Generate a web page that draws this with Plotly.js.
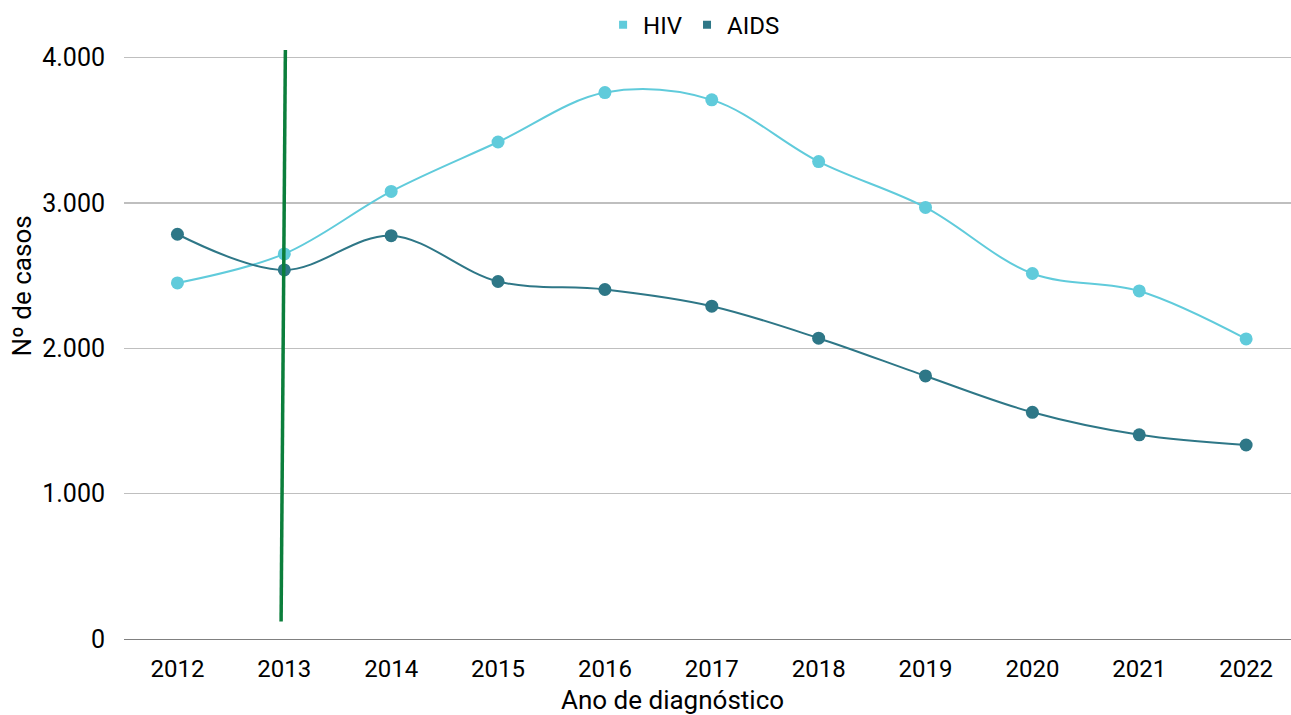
<!DOCTYPE html>
<html>
<head>
<meta charset="utf-8">
<script src="https://cdn.plot.ly/plotly-3.0.1.min.js"></script>
<style>
html,body{margin:0;padding:0;overflow:hidden;background:#fff;}
#chart{width:1291px;height:715px;}
</style>
</head>
<body>
<div id="chart"></div>
<script>
const years = ['2012','2013','2014','2015','2016','2017','2018','2019','2020','2021','2022'];
const hiv  = [2450, 2650, 3080, 3420, 3760, 3710, 3285, 2970, 2515, 2395, 2065];
const aids = [2785, 2540, 2775, 2460, 2405, 2290, 2070, 1810, 1560, 1405, 1335];
const seriesNames = ['HIV', 'AIDS'];
const colors = ['#60CBDB', '#2E7787'];
// hand-drawn marker line (category index, value)
const markerLineX = [1.01, 0.97];
const markerLineY = [4053, 120];

const font = 'Roboto, "Open Sans", sans-serif';

const traces = [
  {x: years, y: hiv, name: seriesNames[0], mode: 'lines+markers', type: 'scatter',
   line: {color: colors[0], width: 2, shape: 'spline', smoothing: 1},
   marker: {color: colors[0], size: 13}, showlegend: false, hoverinfo: 'x+y'},
  {x: years, y: aids, name: seriesNames[1], mode: 'lines+markers', type: 'scatter',
   line: {color: colors[1], width: 2, shape: 'spline', smoothing: 1},
   marker: {color: colors[1], size: 13}, showlegend: false, hoverinfo: 'x+y'},
  {x: [null], y: [null], name: seriesNames[0], mode: 'markers', type: 'scatter',
   marker: {color: colors[0], size: 8, symbol: 'square'}, showlegend: true},
  {x: [null], y: [null], name: seriesNames[1], mode: 'markers', type: 'scatter',
   marker: {color: colors[1], size: 8, symbol: 'square'}, showlegend: true}
];

const layout = {
  width: 1291, height: 715,
  margin: {l: 124, r: 0, t: 50, b: 76},
  paper_bgcolor: '#ffffff', plot_bgcolor: '#ffffff',
  separators: ',.',
  font: {family: font, size: 24, color: '#000000'},
  showlegend: true,
  legend: {orientation: 'h', x: 0.4885, xanchor: 'center', y: 1.0424, yanchor: 'middle',
           font: {family: font, size: 24, color: '#000'}, itemwidth: 30, tracegroupgap: 0,
           bgcolor: 'rgba(0,0,0,0)'},
  xaxis: {type: 'category', range: [-0.5, 10.42], showgrid: false, zeroline: false,
          showline: true, linecolor: '#808080', linewidth: 1.3,
          ticks: '', ticklabelstandoff: 8,
          tickfont: {family: font, size: 24, color: '#000'}},
  yaxis: {range: [0, 4053], tickvals: [0, 1000, 2000, 3000, 4000], tickformat: ',d',
          showgrid: true, gridcolor: '#BFBFBF', gridwidth: 1.3, zeroline: false,
          showline: false, ticks: '', ticklabelstandoff: 18,
          tickfont: {family: font, size: 25, color: '#000'}},
  shapes: [{type: 'line', xref: 'x', yref: 'y',
            x0: markerLineX[0], y0: markerLineY[0], x1: markerLineX[1], y1: markerLineY[1],
            line: {color: '#0B7E3B', width: 3.5}}],
  annotations: [
    {text: 'Ano de diagnóstico', xref: 'paper', yref: 'paper', x: 0.4696, y: -0.1036,
     xanchor: 'center', yanchor: 'middle', showarrow: false,
     font: {family: font, size: 26, color: '#000'}},
    {text: 'Nº de casos', xref: 'paper', yref: 'paper', x: -0.0874, y: 0.5985,
     xanchor: 'center', yanchor: 'middle', textangle: -90, showarrow: false,
     font: {family: font, size: 26, color: '#000'}}
  ]
};

Plotly.newPlot('chart', traces, layout, {displayModeBar: false, staticPlot: true});
</script>
</body>
</html>
